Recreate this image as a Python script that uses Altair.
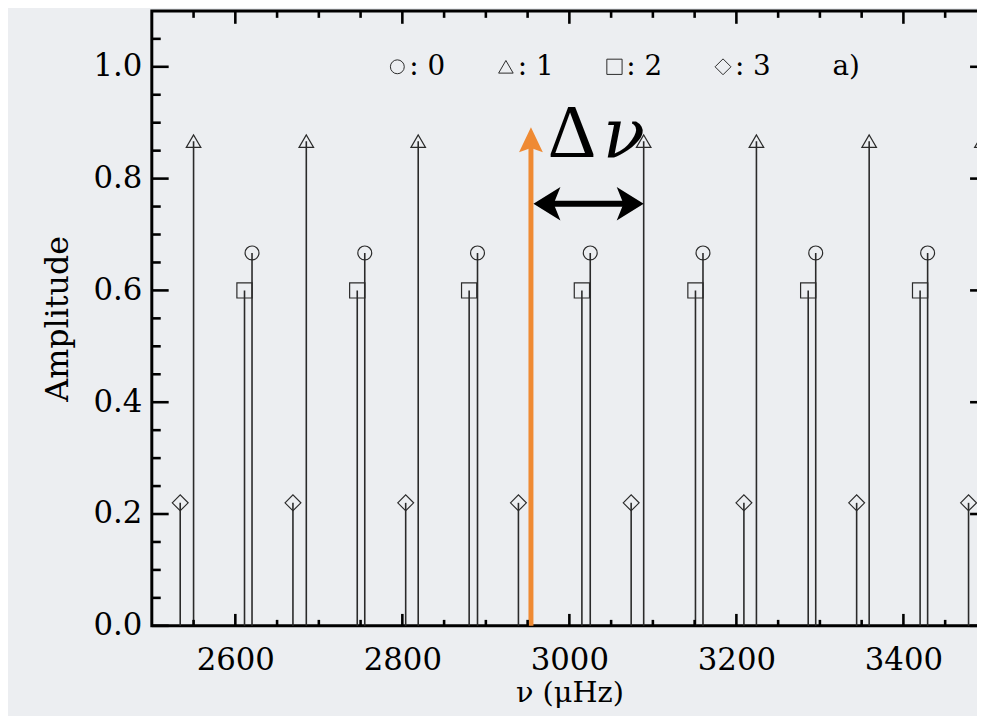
import altair as alt
import pandas as pd

# ---- data ----
l0_freq = [2620, 2755, 2890, 3025, 3160, 3295, 3429]
l1_freq = [2550, 2685, 2819, 2954, 3089, 3224, 3359, 3494]
l2_freq = [2611, 2746, 2880, 3015, 3151, 3286, 3420]
l3_freq = [2534, 2669, 2804, 2939, 3074, 3209, 3344, 3478]
amp = {"0": 0.667, "1": 0.867, "2": 0.60, "3": 0.22}

degrees = ["0", "1", "2", "3"]
shapes = ["circle", "triangle-up", "square", "diamond"]
sizes = [196, 256, 121, 225]
legend_freq = [2794, 2924, 3054, 3184]
legend_text = [":  0", ":  1", ":  2", ":  3"]
legend_sizes = [169, 196, 100, 169]
panel_label = "a)"
panel_freq = 3315
legend_amp = 1.0

x_major = [2600, 2800, 3000, 3200, 3400]
x_minor = [v for v in range(2500, 3501, 50) if v % 200 != 0 and 2500 < v < 3500]
y_major = [0.0, 0.2, 0.4, 0.6, 0.8, 1.0]
y_minor = [round(0.05 * i, 2) for i in range(1, 22) if i % 4 != 0]

arrow_freq = 2954       # orange marker
arrow_top = 0.892
arrow_shaft_top = 0.86
dnu_start = 2957
dnu_end = 3089
dnu_amp = 0.755
dnu_text_f = 2974
nu_text_f = 3040
dnu_text_a = 0.839

W, H = 842, 620
SERIF = "DejaVu Serif"
INK = "#2a2a2a"
ORANGE = "#ef8a33"

rows = []
for l, fl in zip(degrees, [l0_freq, l1_freq, l2_freq, l3_freq]):
    for f in fl:
        rows.append({"f": f, "a": amp[l], "base": 0.0, "l": l})
peaks = pd.DataFrame(rows)

xs = alt.Scale(domain=[2500, 3500], nice=False, zero=False)
ys = alt.Scale(domain=[0, 1.1], nice=False, zero=False)

x_axis = alt.Axis(
    values=x_major, format="d", ticks=False, domain=False, grid=False,
    labelFont=SERIF, labelFontSize=31, labelColor="black", labelPadding=20,
    title="ν  (μHz)", titleFont=SERIF, titleFontSize=29, titleFontWeight="normal",
    titleColor="black", titleY=67, titleBaseline="middle")
y_axis = alt.Axis(
    values=y_major, format=".1f", ticks=False, domain=False, grid=False,
    labelFont=SERIF, labelFontSize=31, labelColor="black", labelPadding=10,
    title="Amplitude", titleFont=SERIF, titleFontSize=32, titleFontWeight="normal",
    titleColor="black", titleX=-95, titleY=310, titleAngle=270,
    titleBaseline="middle", titleAlign="center")


def X(field="f:Q"):
    return alt.X(field, scale=xs, axis=x_axis)


def Y(field="a:Q"):
    return alt.Y(field, scale=ys, axis=y_axis)


stems = alt.Chart(peaks).mark_rule(color=INK, strokeWidth=1.6).encode(
    x=X(), y=Y(), y2="base:Q")

markers = alt.Chart(peaks).mark_point(filled=False, color=INK, strokeWidth=1.2, opacity=1).encode(
    x=X(), y=Y(),
    shape=alt.Shape("l:N", scale=alt.Scale(domain=degrees, range=shapes), legend=None),
    size=alt.Size("l:O", scale=alt.Scale(domain=degrees, range=sizes), legend=None))

# legend row
leg = pd.DataFrame({"f": legend_freq, "a": [legend_amp] * 4, "l": degrees, "t": legend_text})
leg_sym = alt.Chart(leg).mark_point(filled=False, color=INK, strokeWidth=1.0, opacity=1).encode(
    x=X(), y=Y(),
    shape=alt.Shape("l:N", scale=alt.Scale(domain=degrees, range=shapes), legend=None),
    size=alt.Size("l:O", scale=alt.Scale(domain=degrees, range=legend_sizes), legend=None))
leg_txt = alt.Chart(leg).mark_text(font=SERIF, fontSize=28, align="left", baseline="middle",
                                   dx=12, color="black").encode(x=X(), y=Y(), text="t:N")
panel = alt.Chart(pd.DataFrame({"f": [panel_freq], "a": [legend_amp], "t": [panel_label]})).mark_text(
    font=SERIF, fontSize=28, align="left", baseline="middle", color="black").encode(x=X(), y=Y(), text="t:N")

# orange arrow
orange_shaft = alt.Chart(pd.DataFrame({"f": [arrow_freq], "a": [arrow_shaft_top], "base": [0.0]})).mark_rule(
    color=ORANGE, strokeWidth=5).encode(x=X(), y=Y(), y2="base:Q")
orange_head = alt.Chart(pd.DataFrame({"f": [arrow_freq], "a": [arrow_top]})).mark_point(
    shape="M0,0 L1,2.1 L0,1.75 L-1,2.1 Z", filled=True, color=ORANGE, size=576, opacity=1,
    strokeWidth=0).encode(x=X(), y=Y())

# double-headed delta-nu arrow
dnu_shaft = alt.Chart(pd.DataFrame({"f": [dnu_start + 20], "f2": [dnu_end - 20], "a": [dnu_amp]})).mark_rule(
    color="black", strokeWidth=6).encode(x=X(), x2="f2:Q", y=Y())
dnu_left = alt.Chart(pd.DataFrame({"f": [dnu_start], "a": [dnu_amp]})).mark_point(
    shape="M0,0 L1.6,-1 L1.2,0 L1.6,1 Z", filled=True, color="black", size=1156, opacity=1,
    strokeWidth=0).encode(x=X(), y=Y())
dnu_right = alt.Chart(pd.DataFrame({"f": [dnu_end], "a": [dnu_amp]})).mark_point(
    shape="M0,0 L-1.6,-1 L-1.2,0 L-1.6,1 Z", filled=True, color="black", size=1156, opacity=1,
    strokeWidth=0).encode(x=X(), y=Y())
delta_txt = alt.Chart(pd.DataFrame({"f": [dnu_text_f], "a": [dnu_text_a], "t": ["Δ"]})).mark_text(
    font="Liberation Serif", fontSize=76, align="left", baseline="alphabetic", color="black").encode(
    x=X(), y=Y(), text="t:N")
nu_txt = alt.Chart(pd.DataFrame({"f": [nu_text_f], "a": [dnu_text_a], "t": ["ν"]})).mark_text(
    font=SERIF, fontSize=70, fontStyle="italic", align="left", baseline="alphabetic",
    color="black").encode(x=X(), y=Y(), text="t:N")

# inward tick marks on all four sides
TK = 2.6
ymaj = pd.DataFrame({"a": y_major})
ymin = pd.DataFrame({"a": y_minor})
xmaj = pd.DataFrame({"f": x_major})
xmin = pd.DataFrame({"f": x_minor})
ticks = [
    alt.Chart(ymaj).mark_rule(color="black", strokeWidth=TK).encode(y=Y(), x=alt.value(0), x2=alt.value(17)),
    alt.Chart(ymin).mark_rule(color="black", strokeWidth=TK).encode(y=Y(), x=alt.value(0), x2=alt.value(9)),
    alt.Chart(ymaj).mark_rule(color="black", strokeWidth=TK).encode(y=Y(), x=alt.value(W - 17), x2=alt.value(W)),
    alt.Chart(ymin).mark_rule(color="black", strokeWidth=TK).encode(y=Y(), x=alt.value(W - 9), x2=alt.value(W)),
    alt.Chart(xmaj).mark_rule(color="black", strokeWidth=TK).encode(x=X(), y=alt.value(H), y2=alt.value(H - 12)),
    alt.Chart(xmin).mark_rule(color="black", strokeWidth=TK).encode(x=X(), y=alt.value(H), y2=alt.value(H - 6)),
    alt.Chart(xmaj).mark_rule(color="black", strokeWidth=TK).encode(x=X(), y=alt.value(0), y2=alt.value(13)),
    alt.Chart(xmin).mark_rule(color="black", strokeWidth=TK).encode(x=X(), y=alt.value(0), y2=alt.value(7)),
]

chart = alt.layer(
    stems, markers, leg_sym, leg_txt, panel,
    orange_shaft, orange_head, dnu_shaft, dnu_left, dnu_right, delta_txt, nu_txt,
    *ticks
).properties(
    width=W, height=H,
    autosize=alt.AutoSizeParams(type="none"),
    padding={"left": 145, "top": 0, "right": -10, "bottom": 88},
    background="#eceef1",
).configure_view(stroke="black", strokeWidth=3)

chart.save("out.html", embed_options={"renderer": "svg", "actions": False})
